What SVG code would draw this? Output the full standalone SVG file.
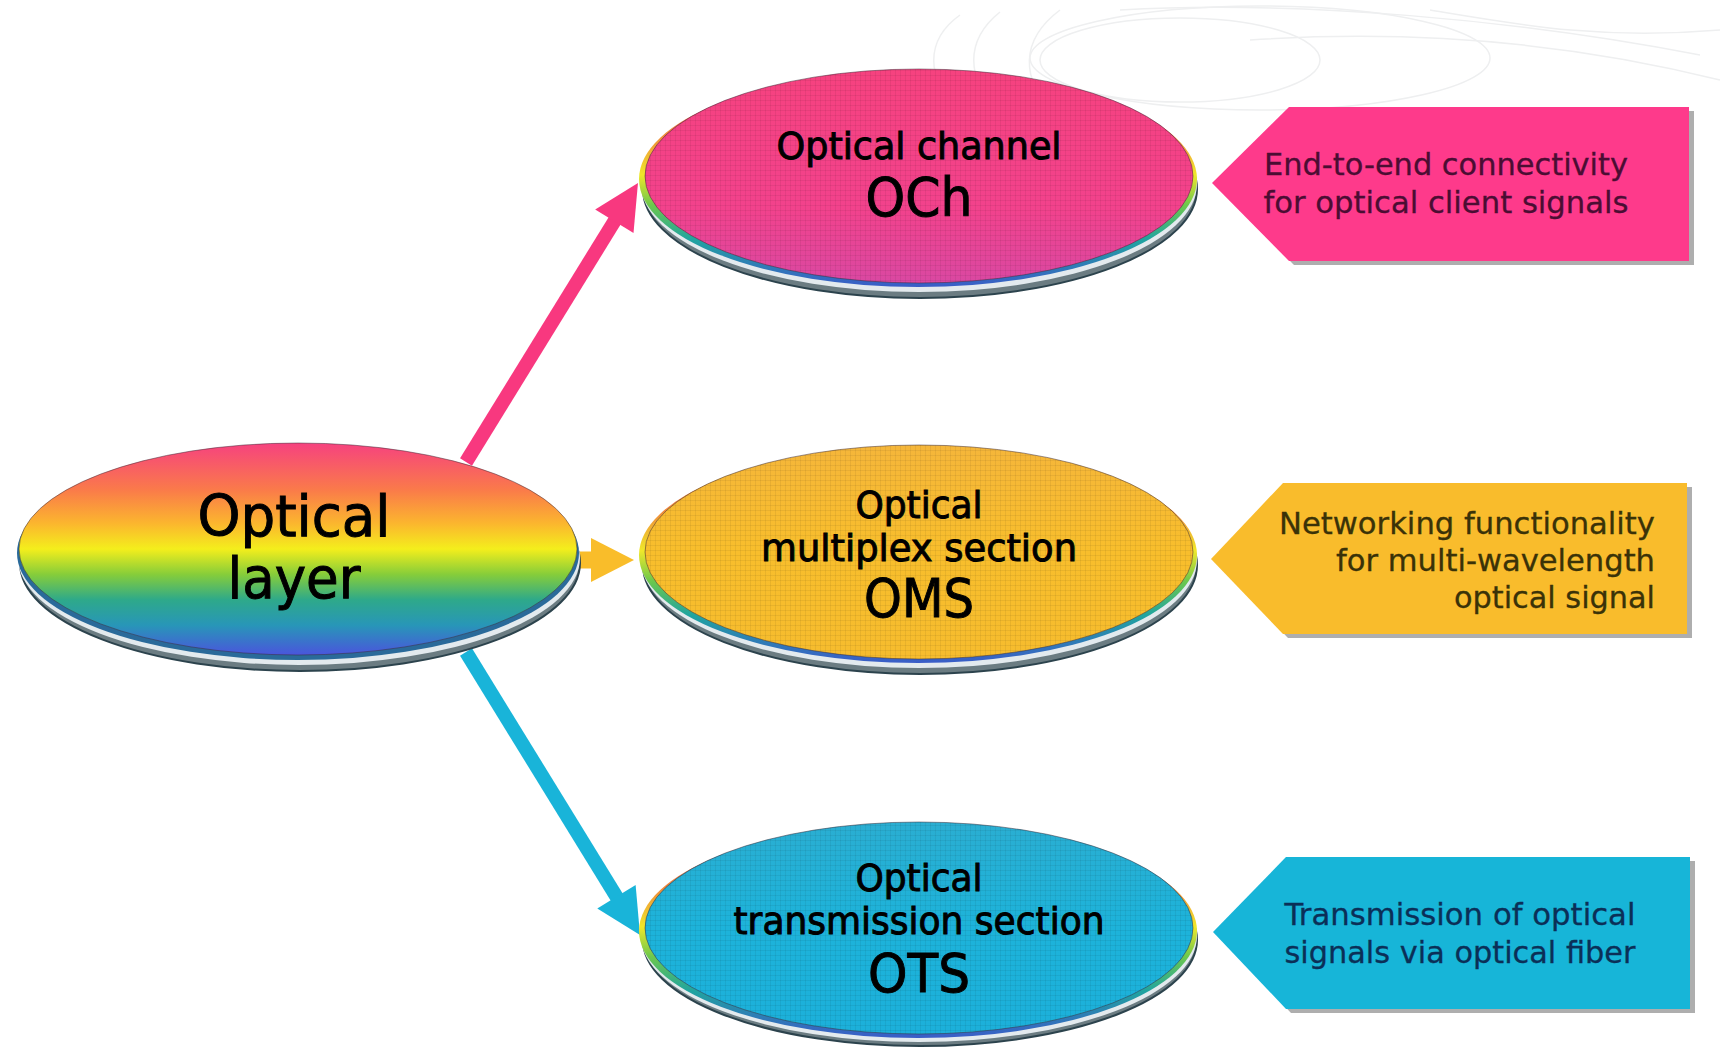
<svg xmlns="http://www.w3.org/2000/svg" width="1725" height="1052" viewBox="0 0 1725 1052">
<style>
.t{font-family:"DejaVu Sans","Liberation Sans",sans-serif;text-anchor:middle;fill:#000;stroke:#000;stroke-width:1}
.big{font-size:57px}
.mid{font-size:38px}
.abbr{font-size:54px}
.lbl{font-family:"DejaVu Sans","Liberation Sans",sans-serif;font-size:30px;stroke-width:0.3}
.swirl{fill:none;stroke:#eeeff0;stroke-width:1.5}
.shadowE{fill:#6b7c82;stroke:#2c434d;stroke-width:2}
.lightE{fill:#e3eaee}
.rimE{fill:url(#rimG)}
.gridE{fill:url(#grid)}
.faceLine{fill:none;stroke:#3c2a36;stroke-width:1;stroke-opacity:0.5}
.pshadow{fill:#8c8c8c;opacity:0.7}
</style>
<defs>
<linearGradient id="rainbow" x1="0" y1="0" x2="0" y2="1">
<stop offset="0" stop-color="#f6427f"/>
<stop offset="0.22" stop-color="#fa7a4a"/>
<stop offset="0.38" stop-color="#fbb62e"/>
<stop offset="0.5" stop-color="#f4ee1c"/>
<stop offset="0.62" stop-color="#86cd3a"/>
<stop offset="0.74" stop-color="#2ea98a"/>
<stop offset="0.86" stop-color="#2896b8"/>
<stop offset="1" stop-color="#4a55dc"/>
</linearGradient>
<linearGradient id="rimG" x1="0" y1="0" x2="0" y2="1">
<stop offset="0" stop-color="#d8405a"/>
<stop offset="0.3" stop-color="#f08a3a"/>
<stop offset="0.48" stop-color="#f0e82a"/>
<stop offset="0.62" stop-color="#6cc84c"/>
<stop offset="0.78" stop-color="#20a4a0"/>
<stop offset="1" stop-color="#3a5cc8"/>
</linearGradient>
<linearGradient id="pinkF" x1="0" y1="0" x2="0" y2="1">
<stop offset="0" stop-color="#f6427f"/>
<stop offset="0.65" stop-color="#f2428c"/>
<stop offset="1" stop-color="#da48a2"/>
</linearGradient>
<linearGradient id="orangeF" x1="0" y1="0" x2="0" y2="1">
<stop offset="0" stop-color="#f5b63a"/>
<stop offset="0.5" stop-color="#f8be2c"/>
<stop offset="1" stop-color="#f6bc2e"/>
</linearGradient>
<linearGradient id="cyanF" x1="0" y1="0" x2="0" y2="1">
<stop offset="0" stop-color="#2aaed2"/>
<stop offset="0.5" stop-color="#1db3da"/>
<stop offset="1" stop-color="#1cb0da"/>
</linearGradient>
<pattern id="grid" width="5" height="5" patternUnits="userSpaceOnUse">
<path d="M0,0.5 H5 M0.5,0 V5" stroke="#000" stroke-opacity="0.06" stroke-width="1" fill="none"/>
</pattern>
<marker id="hPink" markerUnits="userSpaceOnUse" markerWidth="46" markerHeight="46" refX="2" refY="22.5" orient="auto" overflow="visible"><path d="M0,0 L45,22.5 L0,45 Z" fill="#f8387f"/></marker>
<marker id="hOrange" markerUnits="userSpaceOnUse" markerWidth="46" markerHeight="46" refX="2" refY="22" orient="auto" overflow="visible"><path d="M0,0 L43,22 L0,44 Z" fill="#f9bd2a"/></marker>
<marker id="hCyan" markerUnits="userSpaceOnUse" markerWidth="46" markerHeight="46" refX="2" refY="22.5" orient="auto" overflow="visible"><path d="M0,0 L45,22.5 L0,45 Z" fill="#19b4d9"/></marker>
</defs>
<rect width="1725" height="1052" fill="#ffffff"/>
<g id="background-swirl">
<path class="swirl" d="M960,15 C925,40 925,80 960,108"/>
<path class="swirl" d="M1000,12 C965,40 965,80 1000,110"/>
<path class="swirl" d="M1060,10 C1020,40 1020,80 1055,112"/>
<ellipse class="swirl" cx="1180" cy="60" rx="140" ry="42"/>
<ellipse class="swirl" cx="1260" cy="58" rx="230" ry="52"/>
<path class="swirl" d="M1120,10 C1300,0 1520,20 1700,55"/>
<path class="swirl" d="M1250,40 C1400,30 1560,40 1720,80"/>
<path class="swirl" d="M1430,10 C1520,25 1600,40 1720,30"/>
</g>
<g id="connectors">
<line x1="466" y1="462" x2="615.4" y2="219.6" stroke="#f8387f" stroke-width="14" marker-end="url(#hPink)"/>
<line x1="574" y1="560" x2="593" y2="560" stroke="#f9bd2a" stroke-width="17" marker-end="url(#hOrange)"/>
<line x1="466" y1="652" x2="617.5" y2="898.4" stroke="#19b4d9" stroke-width="14" marker-end="url(#hCyan)"/>
</g>
<g id="optical-layer">
<ellipse class="shadowE" cx="300" cy="563" rx="280" ry="108"/>
<ellipse class="lightE" cx="299" cy="558" rx="281" ry="107"/>
<ellipse fill="#2a6a9a" cx="298" cy="553" rx="281" ry="107"/>
<ellipse fill="url(#rainbow)" cx="298" cy="549" rx="279" ry="106"/>
<ellipse class="faceLine" cx="298" cy="549" rx="279" ry="106"/>
<text class="t big" x="294" y="536" textLength="193" lengthAdjust="spacingAndGlyphs">Optical</text>
<text class="t big" x="294" y="598" textLength="133" lengthAdjust="spacingAndGlyphs">layer</text>
</g>
<g id="och">
<ellipse class="shadowE" cx="920" cy="189" rx="277" ry="109"/>
<ellipse class="lightE" cx="919" cy="184" rx="278" ry="108"/>
<ellipse class="rimE" cx="918" cy="179" rx="279" ry="108"/>
<ellipse fill="url(#pinkF)" cx="919" cy="176" rx="274" ry="107"/>
<ellipse class="gridE" cx="919" cy="176" rx="274" ry="107"/>
<ellipse class="faceLine" cx="919" cy="176" rx="274" ry="107"/>
<text class="t mid" x="919" y="159" textLength="285" lengthAdjust="spacingAndGlyphs">Optical channel</text>
<text class="t abbr" x="919" y="216" textLength="107" lengthAdjust="spacingAndGlyphs">OCh</text>
</g>
<g id="oms">
<ellipse class="shadowE" cx="920" cy="565" rx="277" ry="109"/>
<ellipse class="lightE" cx="919" cy="560" rx="278" ry="108"/>
<ellipse class="rimE" cx="918" cy="555" rx="279" ry="108"/>
<ellipse fill="url(#orangeF)" cx="919" cy="552" rx="274" ry="107"/>
<ellipse class="gridE" cx="919" cy="552" rx="274" ry="107"/>
<ellipse class="faceLine" cx="919" cy="552" rx="274" ry="107"/>
<text class="t mid" x="919" y="518" textLength="127" lengthAdjust="spacingAndGlyphs">Optical</text>
<text class="t mid" x="919" y="561" textLength="316" lengthAdjust="spacingAndGlyphs">multiplex section</text>
<text class="t abbr" x="919" y="617" textLength="110" lengthAdjust="spacingAndGlyphs">OMS</text>
</g>
<g id="ots">
<ellipse class="shadowE" cx="920" cy="940" rx="277" ry="106"/>
<ellipse class="lightE" cx="919" cy="936" rx="278" ry="106"/>
<ellipse class="rimE" cx="918" cy="931" rx="279" ry="107"/>
<ellipse fill="url(#cyanF)" cx="919" cy="928" rx="274" ry="106"/>
<ellipse class="gridE" cx="919" cy="928" rx="274" ry="106"/>
<ellipse class="faceLine" cx="919" cy="928" rx="274" ry="106"/>
<text class="t mid" x="919" y="891" textLength="127" lengthAdjust="spacingAndGlyphs">Optical</text>
<text class="t mid" x="919" y="934" textLength="371" lengthAdjust="spacingAndGlyphs">transmission section</text>
<text class="t abbr" x="919" y="992" textLength="102" lengthAdjust="spacingAndGlyphs">OTS</text>
</g>
<g id="label-och">
<polygon class="pshadow" points="1217,187 1294,111 1694,111 1694,265 1294,265"/>
<polygon fill="#fe3a8b" points="1212,183 1289,107 1689,107 1689,261 1289,261"/>
<text class="lbl" x="1446" y="175" text-anchor="middle" fill="#4b0d33" stroke="#4b0d33" textLength="364" lengthAdjust="spacingAndGlyphs">End-to-end connectivity</text>
<text class="lbl" x="1446" y="213" text-anchor="middle" fill="#4b0d33" stroke="#4b0d33" textLength="365" lengthAdjust="spacingAndGlyphs">for optical client signals</text>
</g>
<g id="label-oms">
<polygon class="pshadow" points="1216,563 1288,487 1692,487 1692,638 1288,638"/>
<polygon fill="#f9bc2c" points="1211,559 1283,483 1687,483 1687,634 1283,634"/>
<text class="lbl" x="1655" y="534" text-anchor="end" fill="#3a3208" stroke="#3a3208" textLength="376" lengthAdjust="spacingAndGlyphs">Networking functionality</text>
<text class="lbl" x="1655" y="571" text-anchor="end" fill="#3a3208" stroke="#3a3208" textLength="319" lengthAdjust="spacingAndGlyphs">for multi-wavelength</text>
<text class="lbl" x="1655" y="608" text-anchor="end" fill="#3a3208" stroke="#3a3208" textLength="201" lengthAdjust="spacingAndGlyphs">optical signal</text>
</g>
<g id="label-ots">
<polygon class="pshadow" points="1218,936 1291,861 1695,861 1695,1013 1291,1013"/>
<polygon fill="#17b5d8" points="1213,932 1286,857 1690,857 1690,1009 1286,1009"/>
<text class="lbl" x="1460" y="925" text-anchor="middle" fill="#0b2f57" stroke="#0b2f57" textLength="351" lengthAdjust="spacingAndGlyphs">Transmission of optical</text>
<text class="lbl" x="1460" y="963" text-anchor="middle" fill="#0b2f57" stroke="#0b2f57" textLength="351" lengthAdjust="spacingAndGlyphs">signals via optical fiber</text>
</g>
</svg>
